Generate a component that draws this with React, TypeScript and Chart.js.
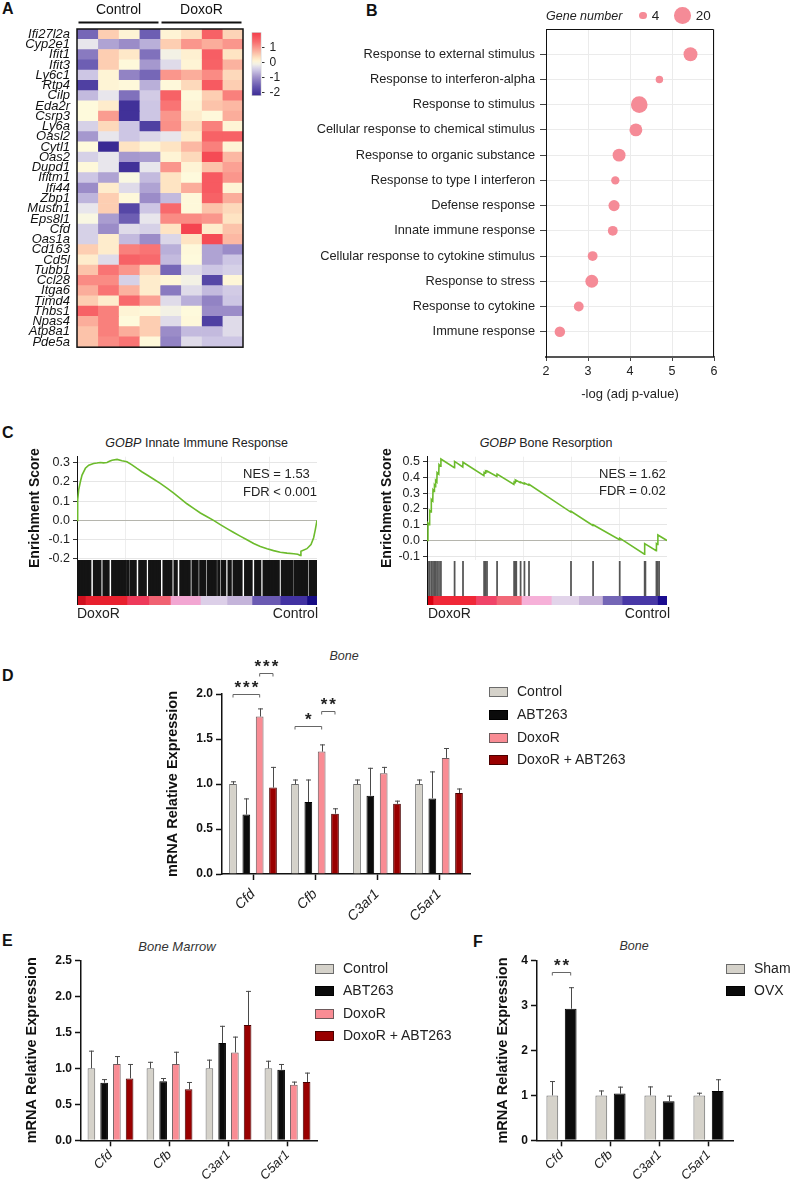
import React, { useEffect, useRef } from "react";
import { Chart, registerables } from "chart.js";
Chart.register(...registerables);

const FONT = "'Liberation Sans', Arial, Helvetica, sans-serif";
Chart.defaults.font.family = FONT;
Chart.defaults.color = "#222";

// ================= Panel A : heatmap =================
const heatGenes = ["Ifi27l2a","Cyp2e1","Ifit1","Ifit3","Ly6c1","Rtp4","Cilp","Eda2r","Csrp3","Ly6a","Oasl2","Cytl1","Oas2","Dupd1","Ifitm1","Ifi44","Zbp1","Mustn1","Eps8l1","Cfd","Oas1a","Cd163","Cd5l","Tubb1","Ccl28","Itga6","Timd4","Thbs1","Npas4","Atp8a1","Pde5a"];
const heatControl = [
  [-1.4, 0.5, 0.1, -1.5],[-0.2, -0.8, -1.0, -0.7],[-1.2, 0.5, 0.25, -1.3],[-1.5, 0.5, 0.05, -0.9],
  [-0.5, 0.1, -1.1, -1.4],[-1.9, 0.1, 0.05, -0.7],[-0.6, -0.2, -1.3, -0.45],[0.02, 0.2, -2.1, -0.5],
  [0.02, 0.95, -2.1, -0.5],[-0.4, 0.4, -0.5, -1.9],[-0.9, -0.2, -0.5, -0.35],[0.02, -2.2, 0.3, 0.1],
  [-0.4, -0.2, -0.9, -0.85],[0.05, -0.2, -2.1, -0.2],[-0.5, -0.8, -0.05, -0.6],[-1.0, 0.2, -0.3, -0.8],
  [-0.65, 0.5, 0.05, -1.0],[-0.2, 0.5, -1.8, -0.5],[-0.05, -0.85, -1.5, -0.2],[-0.4, -1.0, -0.3, -0.4],
  [-0.4, 0.2, -0.6, -1.0],[0.5, 0.2, 1.2, 1.3],[0.2, -0.3, 1.5, 1.4],[0.6, 1.3, 1.0, 0.4],
  [1.1, 1.1, -0.4, 0.2],[0.8, 1.3, 0.75, 0.2],[0.5, 0.2, 1.4, 0.9],[1.5, 1.2, 0.1, 0.05],
  [0.8, 1.2, 0.02, 0.5],[0.6, 1.2, 0.8, 0.5],[0.6, 1.1, 1.3, 0.05]
];
const heatDoxoR = [
  [0.1, 0.35, 1.5, 0.45],[0.5, 1.0, 0.8, 1.0],[-0.1, 0.15, 1.55, 0.3],[-0.3, 0.1, 1.5, 0.75],
  [1.0, 0.8, 1.1, 0.4],[0.05, 0.4, 1.6, 0.5],[1.5, 0.05, 0.5, 1.2],[1.3, 0.1, 0.6, 0.7],
  [1.0, 0.2, 0.05, 0.8],[1.05, 0.4, 1.2, 0.1],[-0.2, 0.2, 1.5, 1.5],[0.3, 0.7, 1.2, 0.1],
  [0.1, 0.4, 1.8, 0.7],[1.0, 0.1, 0.6, 0.9],[0.3, 0.02, 1.6, 1.0],[0.3, 0.8, 1.6, 0.1],
  [-0.6, 0.05, 1.5, 0.8],[1.4, 0.05, 0.6, 0.4],[1.1, 1.1, 1.0, 0.3],[0.3, 1.9, 0.2, 0.6],
  [-0.35, 0.3, 1.8, 0.7],[-0.7, 0.05, -0.8, -1.0],[-0.6, 0.02, -0.8, -0.5],[-1.4, -0.3, -0.5, -0.4],
  [0.08, -0.1, -1.8, 0.08],[-1.2, -0.3, -0.6, -0.45],[-0.3, -0.7, -1.1, -0.5],[-0.1, 0.02, -1.0, -1.0],
  [-0.3, 0.05, -1.9, -0.3],[-1.0, -0.6, -0.6, -0.3],[-1.1, -0.3, -0.5, -0.5]
];
const heatGroups = ["Control", "DoxoR"];
const colorbarTicks = [1, 0, -1, -2];
const colorbarMin = -2.2;
const colorbarMax = 2.0;

// ================= Panel B : GO bubble =================
const goTerms = ["Response to external stimulus","Response to interferon-alpha","Response to stimulus","Cellular response to chemical stimulus","Response to organic substance","Response to type I interferon","Defense response","Innate immune response","Cellular response to cytokine stimulus","Response to stress","Response to cytokine","Immune response"];
const goLogP = [5.44, 4.70, 4.22, 4.14, 3.74, 3.65, 3.62, 3.59, 3.11, 3.09, 2.78, 2.33];
const goGenes = [14, 4, 20, 12, 12, 5, 9, 7, 7, 12, 7, 8];
const goLegendGenes = [4, 20];
const goXTicks = [2, 3, 4, 5, 6];

// ================= Panel C : GSEA =================
const innateCurve = [[0,0],[0.28,0.106],[0.7,0.158],[1.4,0.2],[2.1,0.235],[3.5,0.27],[4.9,0.286],[6.9,0.295],[8.3,0.297],[9.7,0.3],[11,0.298],[12.5,0.3],[13.5,0.306],[14.6,0.312],[16.7,0.316],[18.75,0.309],[20.8,0.304],[22.9,0.288],[25,0.269],[27,0.252],[29.2,0.235],[32,0.213],[34.7,0.192],[37.5,0.167],[40.3,0.141],[43,0.114],[45.8,0.086],[48.6,0.062],[51.4,0.038],[54.2,0.019],[56.9,0],[59.7,-0.022],[62.5,-0.043],[65.3,-0.063],[68,-0.082],[70.8,-0.101],[73.6,-0.12],[76.4,-0.135],[79.2,-0.147],[81.9,-0.157],[84.7,-0.165],[87.5,-0.17],[90.3,-0.173],[92,-0.176],[93,-0.182],[93.3,-0.16],[95.8,-0.147],[97.5,-0.125],[98.6,-0.09],[99.3,-0.048],[100,0]];
const innateHits = [0,0.6,1.2,1.8,2.4,3.0,3.6,4.2,4.8,5.4,7.2,7.8,8.4,9.0,9.6,11.2,11.8,12.4,13.0,14.8,15.4,16.0,16.6,17.2,17.8,18.4,19.0,19.6,20.2,21.3,22.5,23.1,23.7,24.3,26.1,26.7,27.3,27.9,28.5,30.2,30.8,31.4,32.0,32.6,33.2,33.8,34.4,36.2,36.8,37.4,38.0,38.6,39.2,40.8,41.4,43.2,43.8,44.4,45.0,45.6,46.2,46.8,48.3,48.9,49.5,50.1,51.5,52.1,52.7,53.3,54.7,55.3,55.9,56.5,57.1,57.7,59.0,60.4,61.0,61.6,63.3,63.9,65.4,66.0,66.6,67.2,67.8,68.4,70.2,70.8,71.4,72.0,72.6,74.4,75.0,75.6,76.2,77.9,78.5,79.1,79.7,80.3,80.9,81.5,82.1,82.7,83.3,83.9,85.5,86.1,86.7,87.3,87.9,88.5,89.1,89.7,91.0,91.6,92.2,92.8,93.4,94.0,94.6,95.2,95.8,97.2,97.8,98.4,99.0,99.6];
const innateRampEnds = [3.5, 20.8, 29.9, 38.9, 51.4, 62.5, 72.9, 84.7, 95.8, 100];
const innateRampColors = ["#d0101e","#e8202e","#ee3a5a","#f06272","#f2a6d2","#dccfe8","#c4b4da","#6a5ab2","#4232a2","#160c84"];
const innateYTicks = [-0.2, -0.1, 0, 0.1, 0.2, 0.3];

const boneCurve = [[0,0],[0.4,0.11],[0.9,0.10],[1.1,0.19],[1.7,0.18],[1.8,0.26],[2.4,0.25],[2.5,0.32],[3.0,0.31],[3.1,0.35],[3.5,0.34],[3.6,0.38],[4.1,0.37],[4.2,0.43],[4.9,0.42],[5.0,0.48],[5.6,0.47],[5.8,0.515],[11.4,0.46],[11.5,0.50],[14.9,0.465],[15.0,0.495],[23.7,0.41],[23.8,0.43],[24.3,0.425],[24.4,0.44],[24.9,0.435],[25.0,0.44],[29.1,0.405],[29.2,0.42],[36.2,0.355],[36.3,0.37],[36.7,0.365],[36.8,0.38],[37.1,0.375],[37.2,0.38],[38.9,0.365],[39.0,0.37],[40.5,0.358],[40.6,0.363],[42.4,0.35],[42.5,0.355],[59.9,0.18],[60.0,0.185],[69.1,0.095],[69.2,0.10],[80.2,0.005],[80.3,0.015],[90.6,-0.087],[90.7,-0.02],[95.5,-0.065],[95.6,-0.02],[96.0,-0.025],[96.2,0.035],[100,0]];
const boneHits = [0.4,1.1,1.8,2.5,3.1,3.6,4.2,5.0,5.8,11.5,15.0,23.8,24.4,25.0,29.2,36.3,36.8,37.2,39.0,40.6,42.5,60.0,69.2,80.3,90.7,91.0,95.6,96.1,96.7];
const boneRampEnds = [2.5, 20.3, 28.9, 39.3, 51.8, 63.2, 73.1, 81.3, 96.0, 100];
const boneRampColors = ["#d80010","#f02838","#f04468","#f26878","#f6b0d8","#e2d4ea","#c8b4da","#7466b6","#4838a6","#1a0c90"];
const boneYTicks = [-0.1, 0, 0.1, 0.2, 0.3, 0.4, 0.5];

// ================= Panels D, E, F : qPCR =================
const qGenes = ["Cfd", "Cfb", "C3ar1", "C5ar1"];
const groupNames = ["Control", "ABT263", "DoxoR", "DoxoR + ABT263"];
const groupColors = ["#d5d2ca", "#0b0b0b", "#f98c94", "#990000"];
const groupBorders = ["#6b6b6b", "#000000", "#6e5a5c", "#4a0000"];

const boneControl = [1.0, 1.0, 1.0, 1.0];
const boneControlSem = [0.03, 0.05, 0.05, 0.05];
const boneABT = [0.66, 0.80, 0.87, 0.84];
const boneABTSem = [0.18, 0.25, 0.31, 0.30];
const boneDoxoR = [1.75, 1.36, 1.12, 1.29];
const boneDoxoRSem = [0.09, 0.08, 0.07, 0.11];
const boneDoxoABT = [0.96, 0.67, 0.78, 0.90];
const boneDoxoABTSem = [0.23, 0.06, 0.035, 0.05];
const boneSig = [
  { cat: 0, a: 0, b: 2, y: 2.0, text: "***" },
  { cat: 0, a: 2, b: 3, y: 2.23, text: "***" },
  { cat: 1, a: 0, b: 2, y: 1.64, text: "*" },
  { cat: 1, a: 2, b: 3, y: 1.81, text: "**" },
];

const marrowControl = [1.0, 1.0, 1.0, 1.0];
const marrowControlSem = [0.245, 0.09, 0.12, 0.105];
const marrowABT = [0.80, 0.82, 1.35, 0.98];
const marrowABTSem = [0.05, 0.045, 0.24, 0.08];
const marrowDoxoR = [1.06, 1.06, 1.22, 0.77];
const marrowDoxoRSem = [0.11, 0.17, 0.22, 0.045];
const marrowDoxoABT = [0.86, 0.71, 1.60, 0.81];
const marrowDoxoABTSem = [0.20, 0.10, 0.475, 0.13];

const ovxNames = ["Sham", "OVX"];
const ovxColors = ["#d5d2ca", "#0b0b0b"];
const ovxBorders = ["#6b6b6b", "#000000"];
const ovxSham = [1.0, 1.0, 1.0, 1.0];
const ovxShamSem = [0.32, 0.11, 0.20, 0.06];
const ovxOVX = [2.93, 1.04, 0.87, 1.10];
const ovxOVXSem = [0.48, 0.155, 0.125, 0.26];
const ovxSig = [{ cat: 0, a: 0, b: 1, y: 3.75, text: "**" }];

// ================= helpers =================
const heatStops: [number, number[]][] = [
  [-2.2, [58, 42, 148]], [-1.6, [100, 85, 175]], [-1.0, [155, 140, 200]], [-0.5, [205, 198, 228]],
  [-0.2, [232, 230, 236]], [0, [254, 252, 222]], [0.3, [254, 228, 195]], [0.6, [252, 195, 170]],
  [1.0, [250, 150, 140]], [1.4, [248, 105, 108]], [2.0, [244, 60, 74]],
];
function heatColor(v: number) {
  const s = heatStops;
  if (v <= s[0][0]) return `rgb(${s[0][1].join(",")})`;
  for (let i = 1; i < s.length; i++) {
    if (v <= s[i][0]) {
      const t = (v - s[i - 1][0]) / (s[i][0] - s[i - 1][0]);
      const c = s[i - 1][1].map((a, k) => Math.round(a + (s[i][1][k] - a) * t));
      return `rgb(${c.join(",")})`;
    }
  }
  return `rgb(${s[s.length - 1][1].join(",")})`;
}

type Box = { l: number; t: number; w: number; h: number };
type Rect = { l: number; t: number; r: number; b: number };
const place = (c: Box, p: Rect) => ({ yW: p.l - c.l, padTop: p.t - c.t, padRight: c.l + c.w - p.r, bottom: c.t + c.h - p.b });
const setTicks = (vals: number[]) => (s: any) => { s.ticks = vals.map((v) => ({ value: v })); };

const base = { animation: false, responsive: false, events: [] as any[], devicePixelRatio: 1 };
const noPlugins = { legend: { display: false }, tooltip: { enabled: false } };

// ---------- heatmap
const heatCanvas: Box = { l: 0, t: 0, w: 250, h: 362 };
const heatPlot: Rect = { l: 77, t: 29, r: 243, b: 357 };
function heatConfig() {
  const P = place(heatCanvas, heatPlot);
  const nCols = heatControl[0].length + heatDoxoR[0].length;
  const datasets = Array.from({ length: nCols }, (_, j) => ({
    data: heatGenes.map(() => [j, j + 1]),
    backgroundColor: heatGenes.map((_, i) => heatColor(j < 4 ? heatControl[i][j] : heatDoxoR[i][j - 4])),
    borderWidth: 0, grouped: false, barPercentage: 1, categoryPercentage: 1,
  }));
  const framePlugin = {
    id: "heatFrame",
    afterDraw(chart: any) {
      const { ctx, chartArea: a, scales } = chart;
      ctx.save();
      ctx.strokeStyle = "#111"; ctx.lineWidth = 1.5;
      ctx.strokeRect(a.left, a.top, a.right - a.left, a.bottom - a.top);
      ctx.font = `14px ${FONT}`; ctx.fillStyle = "#111"; ctx.textAlign = "center"; ctx.textBaseline = "middle";
      heatGroups.forEach((g, k) => {
        const x0 = scales.x.getPixelForValue(k * 4), x1 = scales.x.getPixelForValue(k * 4 + 4);
        ctx.fillText(g, (x0 + x1) / 2, a.top - 18.5);
        ctx.lineWidth = 2; ctx.beginPath();
        ctx.moveTo(x0 + 1.5, a.top - 6.5); ctx.lineTo(x1 - 1.5, a.top - 6.5); ctx.stroke();
      });
      ctx.restore();
    },
  };
  return {
    type: "bar",
    data: { labels: heatGenes, datasets },
    options: {
      ...base, indexAxis: "y",
      layout: { padding: { left: 0, top: P.padTop, right: P.padRight, bottom: P.bottom } },
      plugins: noPlugins,
      scales: {
        x: { type: "linear", min: 0, max: nCols, display: false },
        y: {
          grid: { display: false, drawTicks: false }, border: { display: false },
          ticks: { autoSkip: false, padding: 7, color: "#111", font: { size: 13, style: "italic" } },
          afterFit: (s: any) => { s.width = P.yW; },
        },
      },
    },
    plugins: [framePlugin],
  };
}

// ---------- colorbar
function colorbarConfig() {
  return {
    type: "bar",
    data: {
      labels: [""],
      datasets: [{
        data: [[colorbarMin, colorbarMax]],
        backgroundColor: (c: any) => {
          const a = c.chart.chartArea;
          if (!a) return "#fff";
          const g = c.chart.ctx.createLinearGradient(0, a.bottom, 0, a.top);
          for (let i = 0; i <= 20; i++) {
            const v = colorbarMin + (colorbarMax - colorbarMin) * (i / 20);
            g.addColorStop(i / 20, heatColor(v));
          }
          return g;
        },
        borderWidth: 1, borderColor: "#c8c8c8", borderSkipped: false, barPercentage: 1, categoryPercentage: 1,
      }],
    },
    options: {
      ...base,
      layout: { padding: { left: 6.5, top: 11, right: 0, bottom: 14 } },
      plugins: noPlugins,
      scales: {
        x: { display: false },
        y: {
          position: "right", min: colorbarMin, max: colorbarMax,
          afterBuildTicks: setTicks(colorbarTicks),
          ticks: { autoSkip: false, font: { size: 12 }, color: "#222", padding: 5, callback: (v: any) => String(v) },
          grid: { drawOnChartArea: false, tickLength: 3, tickColor: "#333" },
          border: { display: false },
          afterFit: (s: any) => { s.width = 28.5; },
        },
      },
    },
  };
}

// ---------- bubble
const bubCanvas: Box = { l: 300, t: 0, w: 430, h: 404 };
const bubPlot: Rect = { l: 546, t: 29, r: 714, b: 357 };
const bubR = (n: number) => 1.86 * Math.sqrt(n);
const bubColor = "#f58b97";
function bubbleConfig() {
  const P = place(bubCanvas, bubPlot);
  const boxPlugin = {
    id: "bubBox",
    afterDraw(chart: any) {
      const { ctx, chartArea: a } = chart;
      ctx.save(); ctx.strokeStyle = "#111"; ctx.lineWidth = 1;
      ctx.beginPath();
      ctx.moveTo(a.left, a.top + 0.5); ctx.lineTo(a.right - 0.5, a.top + 0.5); ctx.lineTo(a.right - 0.5, a.bottom);
      ctx.stroke(); ctx.restore();
    },
  };
  return {
    type: "bubble",
    data: {
      datasets: [{
        data: goTerms.map((_, i) => ({ x: goLogP[i], y: i + 1, r: bubR(goGenes[i]) })),
        backgroundColor: bubColor, borderWidth: 0,
      }],
    },
    options: {
      ...base,
      layout: { padding: { left: 0, top: P.padTop, right: P.padRight, bottom: 0 } },
      plugins: noPlugins,
      scales: {
        x: {
          min: 2, max: 6, afterBuildTicks: setTicks(goXTicks),
          ticks: { autoSkip: false, font: { size: 12.5 }, color: "#222", padding: 3 },
          grid: { color: "#ebebeb", tickLength: 4, tickColor: "#444" },
          border: { color: "#555", width: 2 },
          title: { display: true, text: "-log (adj p-value)", font: { size: 13 }, color: "#222", padding: { top: 4, bottom: 2 } },
          afterFit: (s: any) => { s.height = P.bottom; },
        },
        y: {
          min: 0, max: goTerms.length + 1, reverse: true,
          afterBuildTicks: setTicks(goTerms.map((_, i) => i + 1)),
          ticks: { autoSkip: false, font: { size: 12.8 }, color: "#222", padding: 5, callback: (v: any) => goTerms[v - 1] },
          grid: { color: "#ebebeb", tickLength: 6, tickColor: "#444" },
          border: { color: "#111", width: 1 },
          afterFit: (s: any) => { s.width = P.yW; },
        },
      },
    },
    plugins: [boxPlugin],
  };
}

// ---------- GSEA
function esConfig(curve: number[][], yTicks: number[], yMin: number, yMax: number, canvas: Box, plot: Rect) {
  const P = place(canvas, plot);
  return {
    type: "scatter",
    data: {
      datasets: [{
        data: curve.map(([x, y]) => ({ x, y })), showLine: true, borderColor: "#6cbb2c", borderWidth: 1.6,
        pointRadius: 0, tension: 0,
      }],
    },
    options: {
      ...base,
      layout: { padding: { left: 0, top: P.padTop, right: P.padRight, bottom: 10 } },
      plugins: noPlugins,
      scales: {
        x: {
          type: "linear", min: 0, max: 100, afterBuildTicks: setTicks([20, 40, 60, 80]),
          ticks: { display: false }, grid: { color: "#eeeeee", drawTicks: false }, border: { display: false },
          afterFit: (s: any) => { s.height = 0; },
        },
        y: {
          min: yMin, max: yMax, afterBuildTicks: setTicks(yTicks),
          ticks: { autoSkip: false, font: { size: 12.5 }, color: "#222", padding: 3, callback: (v: any) => Number(v).toFixed(1) },
          grid: { color: (c: any) => (c.tick && Math.abs(c.tick.value) < 1e-9 ? "#b5b5ad" : "#e6e6e6"), tickColor: "#333", tickLength: 4 },
          border: { color: "#111", width: 1 },
          title: { display: true, text: "Enrichment Score", font: { size: 14, weight: "bold" }, color: "#111", padding: { top: 4, bottom: 4 } },
          afterFit: (s: any) => { s.width = P.yW; },
        },
      },
    },
  };
}
function hitsConfig(hits: number[], color: string, width: number) {
  return {
    type: "bar",
    data: {
      datasets: [{
        data: hits.map((x) => ({ x, y: 1 })),
        backgroundColor: color, borderWidth: 0, barThickness: width,
      }],
    },
    options: {
      ...base, layout: { padding: 0 }, plugins: noPlugins,
      scales: {
        x: { type: "linear", min: 0, max: 100, display: false, offset: false },
        y: { type: "linear", min: 0, max: 1, display: false },
      },
    },
  };
}
function rampConfig(ends: number[], colors: string[]) {
  return {
    type: "bar",
    data: {
      labels: [""],
      datasets: ends.map((e, i) => ({
        data: [[i ? ends[i - 1] : 0, e]], backgroundColor: colors[i], borderWidth: 0,
        grouped: false, barPercentage: 1, categoryPercentage: 1,
      })),
    },
    options: {
      ...base, indexAxis: "y", layout: { padding: 0 }, plugins: noPlugins,
      scales: { x: { type: "linear", min: 0, max: 100, display: false }, y: { display: false } },
    },
  };
}

// ---------- bar charts
const errPlugin = {
  id: "errbars",
  afterDatasetsDraw(chart: any) {
    const { ctx, scales } = chart;
    ctx.save(); ctx.strokeStyle = "#4a4a4a"; ctx.lineWidth = 1;
    chart.data.datasets.forEach((ds: any, di: number) => {
      const meta = chart.getDatasetMeta(di);
      meta.data.forEach((el: any, i: number) => {
        const top = scales.y.getPixelForValue(ds.data[i] + ds.err[i]);
        const x = Math.round(el.x) + 0.5;
        ctx.beginPath();
        ctx.moveTo(x, el.y); ctx.lineTo(x, top);
        ctx.moveTo(x - 2.5, top + 0.5); ctx.lineTo(x + 2.5, top + 0.5);
        ctx.stroke();
      });
    });
    ctx.restore();
  },
};
function sigPlugin(items: any[]) {
  return {
    id: "sig",
    afterDraw(chart: any) {
      const { ctx, scales } = chart;
      ctx.save();
      items.forEach((it) => {
        const xa = chart.getDatasetMeta(it.a).data[it.cat].x;
        const xb = chart.getDatasetMeta(it.b).data[it.cat].x;
        const yy = Math.round(scales.y.getPixelForValue(it.y)) + 0.5;
        ctx.strokeStyle = "#666"; ctx.lineWidth = 1;
        ctx.beginPath();
        ctx.moveTo(xa, yy + 3); ctx.lineTo(xa, yy); ctx.lineTo(xb, yy); ctx.lineTo(xb, yy + 3);
        ctx.stroke();
        ctx.fillStyle = "#222"; ctx.font = `bold 17px ${FONT}`;
        ctx.textAlign = "center"; ctx.textBaseline = "middle";
        (ctx as any).letterSpacing = "2px";
        ctx.fillText(it.text, (xa + xb) / 2 + 1, yy - 6);
      });
      ctx.restore();
    },
  };
}
function barConfig(o: any) {
  const P = place(o.canvas, o.plot);
  return {
    type: "bar",
    data: {
      labels: qGenes,
      datasets: o.series.map((s: any) => ({
        label: s.label, data: s.mean, err: s.err, backgroundColor: s.color, borderColor: s.border,
        borderWidth: 1, categoryPercentage: o.cat, barPercentage: o.bar,
      })),
    },
    options: {
      ...base,
      layout: { padding: { left: 0, top: P.padTop, right: P.padRight, bottom: 0 } },
      plugins: noPlugins,
      scales: {
        x: {
          grid: { offset: false, drawOnChartArea: false, tickLength: 6, tickColor: "#111", tickWidth: 1.5 },
          border: { color: "#111", width: 1.5 },
          ticks: { autoSkip: false, font: { size: o.xFont || 13, style: "italic" }, color: "#222", minRotation: 45, maxRotation: 45, padding: o.xPad ?? 1 },
          afterFit: (s: any) => { s.height = P.bottom; },
        },
        y: {
          min: 0, max: o.ymax, afterBuildTicks: setTicks(o.yticks),
          ticks: { autoSkip: false, font: { size: 12, weight: "bold" }, color: "#111", padding: 3, callback: (v: any) => Number(v).toFixed(o.dec) },
          grid: { drawOnChartArea: false, tickLength: 6, tickColor: "#111", tickWidth: 1.5 },
          border: { color: "#111", width: 1.5 },
          title: { display: true, text: "mRNA Relative Expression", font: { size: 14.5, weight: "bold" }, color: "#111", padding: { top: 4, bottom: 4 } },
          afterFit: (s: any) => { s.width = P.yW; },
        },
      },
    },
    plugins: [errPlugin, sigPlugin(o.sig || [])],
  };
}

const boneSeries = [
  { mean: boneControl, err: boneControlSem },
  { mean: boneABT, err: boneABTSem },
  { mean: boneDoxoR, err: boneDoxoRSem },
  { mean: boneDoxoABT, err: boneDoxoABTSem },
].map((s, i) => ({ ...s, label: groupNames[i], color: groupColors[i], border: groupBorders[i] }));
const marrowSeries = [
  { mean: marrowControl, err: marrowControlSem },
  { mean: marrowABT, err: marrowABTSem },
  { mean: marrowDoxoR, err: marrowDoxoRSem },
  { mean: marrowDoxoABT, err: marrowDoxoABTSem },
].map((s, i) => ({ ...s, label: groupNames[i], color: groupColors[i], border: groupBorders[i] }));
const ovxSeries = [
  { mean: ovxSham, err: ovxShamSem },
  { mean: ovxOVX, err: ovxOVXSem },
].map((s, i) => ({ ...s, label: ovxNames[i], color: ovxColors[i], border: ovxBorders[i] }));

// ---------- layout boxes
const esLCanvas: Box = { l: 23, t: 440, w: 298, h: 130 };
const esLPlot: Rect = { l: 77, t: 456.7, r: 317, b: 560 };
const esRCanvas: Box = { l: 375, t: 440, w: 296, h: 130 };
const esRPlot: Rect = { l: 427, t: 456.7, r: 667, b: 560 };
const dCanvas: Box = { l: 160, t: 640, w: 320, h: 285 };
const dPlot: Rect = { l: 222, t: 694, r: 470, b: 874 };
const eCanvas: Box = { l: 19, t: 948, w: 305, h: 240 };
const ePlot: Rect = { l: 81, t: 960.3, r: 317, b: 1140.3 };
const fCanvas: Box = { l: 490, t: 948, w: 250, h: 240 };
const fPlot: Rect = { l: 537, t: 960.7, r: 733, b: 1140.3 };

// ================= React =================
function ChartCanvas({ box, make }: { box: Box; make: () => any }) {
  const ref = useRef<HTMLCanvasElement>(null);
  useEffect(() => {
    const c = new Chart(ref.current as HTMLCanvasElement, make());
    return () => c.destroy();
  }, []);
  return (
    <canvas ref={ref} width={box.w} height={box.h}
      style={{ position: "absolute", left: box.l, top: box.t, width: box.w, height: box.h }} />
  );
}

function T({ x, y, a = "left", s = 13, w = 400, i = false, c = "#222", children }: any) {
  const tx = a === "center" ? "-50%" : a === "right" ? "-100%" : "0";
  return (
    <div style={{
      position: "absolute", left: x, top: y, transform: `translate(${tx},-50%)`, fontFamily: FONT,
      fontSize: s, fontWeight: w, fontStyle: i ? "italic" : "normal", color: c, whiteSpace: "nowrap", lineHeight: 1,
    }}>{children}</div>
  );
}

function Legend({ x, rows, names, colors, borders }: any) {
  return (
    <>
      {names.map((n: string, k: number) => (
        <React.Fragment key={n}>
          <div style={{ position: "absolute", left: x, top: rows[k] - 4.5, width: 17, height: 8, background: colors[k], border: `1px solid ${k === 0 ? "#6b6b6b" : borders[k]}` }} />
          <T x={x + 28} y={rows[k]} s={14}>{n}</T>
        </React.Fragment>
      ))}
    </>
  );
}

const vline = (x: number, y0: number, y1: number) => (
  <div style={{ position: "absolute", left: x - 0.5, top: y0, width: 1, height: y1 - y0, background: "#111" }} />
);

export default function App() {
  return (
    <div style={{ position: "absolute", left: 0, top: 0, width: 792, height: 1188, background: "#fff", overflow: "hidden" }}>
      {/* Panel letters */}
      <T x={2} y={9} s={16} w={700} c="#111">A</T>
      <T x={366} y={11} s={16} w={700} c="#111">B</T>
      <T x={2} y={432.5} s={16} w={700} c="#111">C</T>
      <T x={2} y={676} s={16} w={700} c="#111">D</T>
      <T x={2} y={941} s={16} w={700} c="#111">E</T>
      <T x={473} y={942} s={16} w={700} c="#111">F</T>

      {/* A */}
      <ChartCanvas box={heatCanvas} make={heatConfig} />
      <ChartCanvas box={{ l: 245, t: 20, w: 45, h: 90 }} make={colorbarConfig} />

      {/* B */}
      <ChartCanvas box={bubCanvas} make={bubbleConfig} />
      <T x={546} y={16} s={12.5} i>Gene number</T>
      {goLegendGenes.map((n, k) => {
        const r = bubR(n);
        const cx = k === 0 ? 643 : 682.5;
        return (
          <React.Fragment key={n}>
            <div style={{ position: "absolute", left: cx - r, top: 15.5 - r, width: 2 * r, height: 2 * r, borderRadius: "50%", background: bubColor }} />
            <T x={cx + r + 5} y={16} s={13.5}>{String(n)}</T>
          </React.Fragment>
        );
      })}

      {/* C left */}
      <T x={196.7} y={443} a="center" s={12.5}><span style={{ fontStyle: "italic" }}>GOBP</span> Innate Immune Response</T>
      <ChartCanvas box={esLCanvas} make={() => esConfig(innateCurve, innateYTicks, -0.203, 0.33, esLCanvas, esLPlot)} />
      <ChartCanvas box={{ l: 77, t: 560, w: 240, h: 36 }} make={() => hitsConfig(innateHits, "#141414", 2.2)} />
      <ChartCanvas box={{ l: 77, t: 596, w: 240, h: 9 }} make={() => rampConfig(innateRampEnds, innateRampColors)} />
      {vline(77, 558, 605)}
      <T x={243} y={473} s={13}>NES = 1.53</T>
      <T x={243} y={490.7} s={13}>FDR &lt; 0.001</T>
      <T x={77} y={612.5} s={14}>DoxoR</T>
      <T x={318} y={612.5} a="right" s={14}>Control</T>

      {/* C right */}
      <T x={546} y={443} a="center" s={12.5}><span style={{ fontStyle: "italic" }}>GOBP</span> Bone Resorption</T>
      <ChartCanvas box={esRCanvas} make={() => esConfig(boneCurve, boneYTicks, -0.12, 0.53, esRCanvas, esRPlot)} />
      <ChartCanvas box={{ l: 427, t: 561, w: 240, h: 35 }} make={() => hitsConfig(boneHits, "#555555", 1.1)} />
      <ChartCanvas box={{ l: 427, t: 596, w: 240, h: 9 }} make={() => rampConfig(boneRampEnds, boneRampColors)} />
      {vline(427, 558, 605)}
      <T x={599} y={473} s={13}>NES = 1.62</T>
      <T x={599} y={490} s={13}>FDR = 0.02</T>
      <T x={428} y={612.7} s={14}>DoxoR</T>
      <T x={670} y={612.7} a="right" s={14}>Control</T>

      {/* D */}
      <T x={344} y={656} a="center" s={12.5} i c="#333">Bone</T>
      <ChartCanvas box={dCanvas} make={() => barConfig({ canvas: dCanvas, plot: dPlot, series: boneSeries, ymax: 2, yticks: [0, 0.5, 1, 1.5, 2], dec: 1, cat: 0.86, bar: 0.58, sig: boneSig, xFont: 14, xPad: 6 })} />
      <Legend x={489} rows={[691, 714, 737, 759]} names={groupNames} colors={groupColors} borders={groupBorders} />

      {/* E */}
      <T x={177} y={946} a="center" s={13} i c="#333">Bone Marrow</T>
      <ChartCanvas box={eCanvas} make={() => barConfig({ canvas: eCanvas, plot: ePlot, series: marrowSeries, ymax: 2.5, yticks: [0, 0.5, 1, 1.5, 2, 2.5], dec: 1, cat: 0.863, bar: 0.6 })} />
      <Legend x={315} rows={[968, 990.3, 1013, 1035]} names={groupNames} colors={groupColors} borders={groupBorders} />

      {/* F */}
      <T x={634} y={946} a="center" s={12.5} i c="#333">Bone</T>
      <ChartCanvas box={fCanvas} make={() => barConfig({ canvas: fCanvas, plot: fPlot, series: ovxSeries, ymax: 4, yticks: [0, 1, 2, 3, 4], dec: 0, cat: 0.75, bar: 0.64, sig: ovxSig })} />
      <Legend x={726} rows={[968, 990]} names={ovxNames} colors={ovxColors} borders={ovxBorders} />
    </div>
  );
}
